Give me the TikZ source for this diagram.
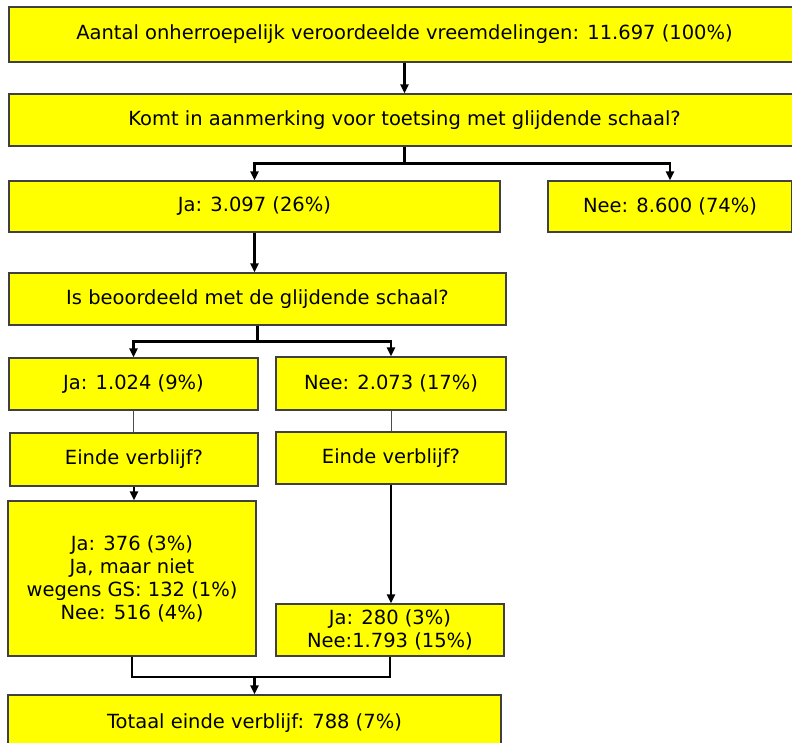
\documentclass[tikz,border=0pt]{standalone}
\usepackage{fontspec}
\setmainfont{DejaVu Sans}
\usetikzlibrary{arrows.meta}
\definecolor{geel}{RGB}{255,255,0}

\tikzset{
  box/.style={draw=black!75, fill=geel, line width=1.2pt, inner sep=0pt, align=center,
    font=\fontsize{19.5}{23}\selectfont},
  arr/.style={-{Triangle[width=8pt,length=9pt]}, line width=2.2pt},
  lijn/.style={line width=2.2pt},
  dun/.style={line width=0.8pt, black!70}
}

\begin{document}
\begin{tikzpicture}[x=1pt, y=-1pt]
  \useasboundingbox (0,0) rectangle (792,743);
  \clip (0,0) rectangle (792,743);

  % bovenste deel
  \node[box, minimum width=791, minimum height=55] (totaal) at (404.5,34.5)
    {Aantal onherroepelijk veroordeelde vreemdelingen: 11.697 (100\%)};
  \node[box, minimum width=791, minimum height=52] (toets) at (404.5,120)
    {Komt in aanmerking voor toetsing met glijdende schaal?};
  \node[box, minimum width=491, minimum height=51] (ja) at (254.5,206.5) {Ja: 3.097 (26\%)};
  \node[box, minimum width=244, minimum height=51] (nee) at (670,206.5) {Nee: 8.600 (74\%)};

  % glijdende schaal
  \node[box, minimum width=497, minimum height=52] (gsvraag) at (257.5,299)
    {Is beoordeeld met de glijdende schaal?};
  \node[box, minimum width=249, minimum height=52] (gsja) at (133.5,384) {Ja: 1.024 (9\%)};
  \node[box, minimum width=230, minimum height=53] (gsnee) at (391,383.5) {Nee: 2.073 (17\%)};
  \node[box, minimum width=248, minimum height=53] (eindeja) at (134,459.5) {Einde verblijf?};
  \node[box, minimum width=230, minimum height=52] (eindenee) at (391,458) {Einde verblijf?};

  % uitkomsten
  \node[box, minimum width=248, minimum height=155] (uitja) at (132,578.5)
    {Ja: 376 (3\%)\\Ja, maar niet\\wegens GS: 132 (1\%)\\Nee: 516 (4\%)};
  \node[box, minimum width=228, minimum height=52] (uitnee) at (390,630)
    {Ja: 280 (3\%)\\Nee:1.793 (15\%)};
  \node[box, minimum width=493, minimum height=56] (eind) at (254.5,723)
    {Totaal einde verblijf: 788 (7\%)};

  % verbindingen
  \draw[arr] (totaal.south) -- (toets.north);
  \draw[lijn] (toets.south) -- ++(0,17) coordinate (splits);
  \draw[arr] (splits) -| (ja.north);
  \draw[arr] (splits) -| (nee.north);
  \draw[arr, line width=2.6pt] (ja.south) -- (ja.south |- gsvraag.north);
  \draw[lijn, line width=2.6pt] (gsvraag.south) -- ++(0,16) coordinate (gssplits);
  \draw[arr, line width=2.6pt] (gssplits) -| (gsja.north);
  \draw[arr, line width=2.6pt] (gssplits) -| (gsnee.north);
  \draw[dun] (gsja.south) -- (gsja.south |- eindeja.north);
  \draw[dun] (gsnee.south) -- (eindenee.north);
  \draw[arr] (eindeja.south) -- (eindeja.south |- uitja.north);
  \draw[arr] (eindenee.south) -- (eindenee.south |- uitnee.north);
  \draw[lijn] (uitja.south) -- ++(0,20) coordinate (samen) -| (uitnee.south);
  \draw[arr] (eind.north |- samen) -- (eind.north);
\end{tikzpicture}
\end{document}
